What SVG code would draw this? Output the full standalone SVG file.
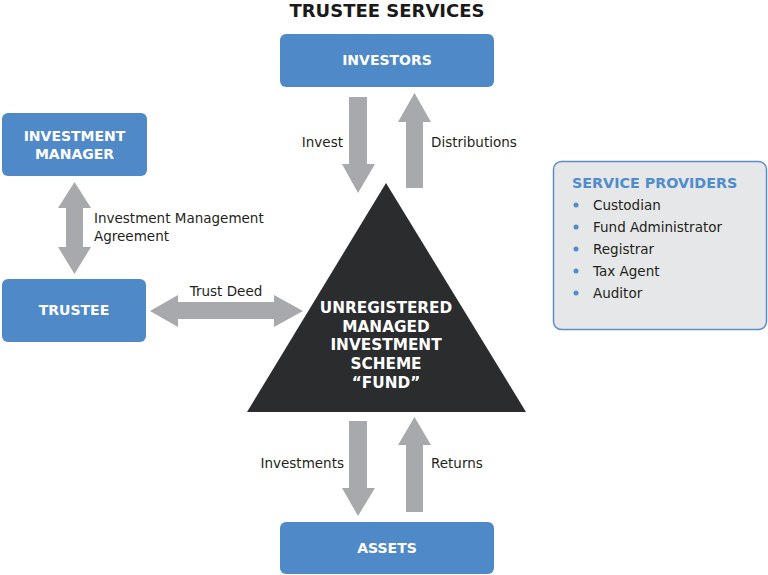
<svg xmlns="http://www.w3.org/2000/svg" width="768" height="575" viewBox="0 0 768 575">
<style>
.box{fill:#5089c8}
.arr{fill:#a7a9ac}
.bt{font-family:"DejaVu Sans","Liberation Sans",sans-serif;font-weight:bold;font-size:14px;fill:#fff;text-anchor:middle}
.lbl{font-family:"DejaVu Sans","Liberation Sans",sans-serif;font-size:13.5px;fill:#231f20}
.tt{font-family:"DejaVu Sans","Liberation Sans",sans-serif;font-weight:bold;font-size:15.3px;fill:#fff;text-anchor:middle}
</style>
<rect width="768" height="575" fill="#fff"/>
<text x="387" y="17" text-anchor="middle" font-family="DejaVu Sans, Liberation Sans, sans-serif" font-weight="bold" font-size="18" fill="#1a1a1a">TRUSTEE SERVICES</text>

<g id="connectors">
<polygon class="arr" points="349,97 367,97 367,164 375,164 358,193 342,164 349,164"/>
<polygon class="arr" points="414.5,93 431,122 423,122 423,188 406,188 406,122 398,122"/>
<polygon class="arr" points="349,421 367,421 367,488 375,488 358,516 342,488 349,488"/>
<polygon class="arr" points="414.5,417 431,445 423,445 423,512 406,512 406,445 398,445"/>
<polygon class="arr" points="74.5,182 91,208 83,208 83,247 91,247 74.5,274 58,247 66,247 66,208 58,208"/>
<polygon class="arr" points="150,311 178,295 178,302 274,302 274,295 303,311 274,327 274,319 178,319 178,327"/>
<text class="lbl" x="343" y="147" text-anchor="end">Invest</text>
<text class="lbl" x="431" y="147">Distributions</text>
<text class="lbl" x="344" y="468" text-anchor="end">Investments</text>
<text class="lbl" x="431" y="468">Returns</text>
<text class="lbl" x="94" y="223">Investment Management</text>
<text class="lbl" x="94" y="241">Agreement</text>
<text class="lbl" x="226" y="296" text-anchor="middle">Trust Deed</text>
</g>

<g id="investors">
<rect class="box" x="280" y="34" width="214" height="53" rx="6"/>
<text class="bt" x="387" y="65">INVESTORS</text>
</g>
<g id="investment-manager">
<rect class="box" x="2" y="113" width="145" height="63" rx="6"/>
<text class="bt" x="74.5" y="141">INVESTMENT</text>
<text class="bt" x="74.5" y="159">MANAGER</text>
</g>
<g id="trustee">
<rect class="box" x="2" y="279" width="144" height="63" rx="6"/>
<text class="bt" x="74" y="315">TRUSTEE</text>
</g>
<g id="assets">
<rect class="box" x="280" y="522" width="214" height="52" rx="6"/>
<text class="bt" x="387" y="553">ASSETS</text>
</g>
<g id="fund">
<polygon points="386,183 526,412 247,412" fill="#2b2c2e"/>
<text class="tt" x="386" y="313">UNREGISTERED</text>
<text class="tt" x="386" y="332">MANAGED</text>
<text class="tt" x="386" y="350">INVESTMENT</text>
<text class="tt" x="386" y="369">SCHEME</text>
<text class="tt" x="386" y="388">“FUND”</text>
</g>
<g id="service-providers">
<rect x="553.5" y="161.5" width="213" height="168" rx="8" fill="#e6e7e8" stroke="#5b8ec9" stroke-width="1.5"/>
<text x="572" y="188" font-family="DejaVu Sans, Liberation Sans, sans-serif" font-weight="bold" font-size="14.3" fill="#4f8ccb">SERVICE PROVIDERS</text>
<g fill="#4f8ccb">
<circle cx="576" cy="205" r="2.5"/>
<circle cx="576" cy="227" r="2.5"/>
<circle cx="576" cy="249" r="2.5"/>
<circle cx="576" cy="271" r="2.5"/>
<circle cx="576" cy="293" r="2.5"/>
</g>
<text class="lbl" x="593" y="210">Custodian</text>
<text class="lbl" x="593" y="232">Fund Administrator</text>
<text class="lbl" x="593" y="254">Registrar</text>
<text class="lbl" x="593" y="276">Tax Agent</text>
<text class="lbl" x="593" y="298">Auditor</text>
</g>
</svg>
